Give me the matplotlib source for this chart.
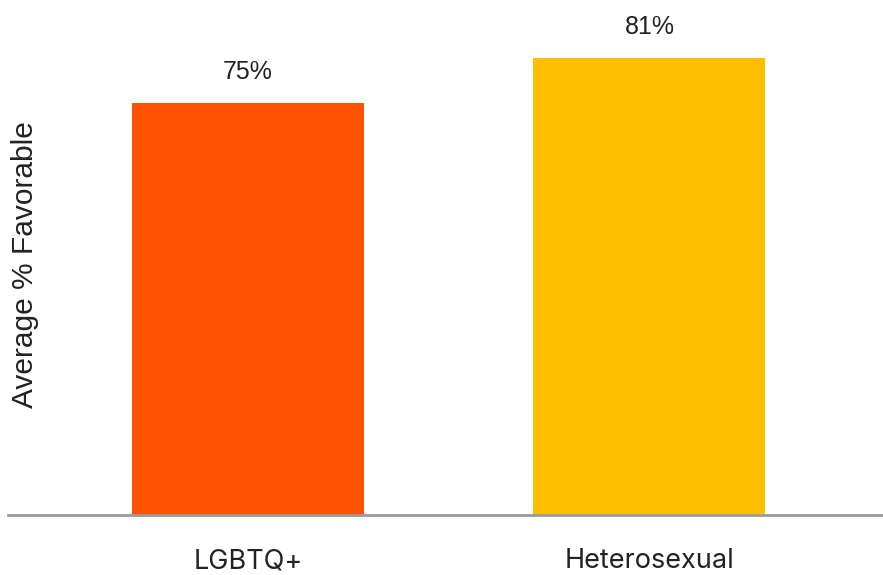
import matplotlib
matplotlib.use("Agg")
from matplotlib import pyplot as plt

categories = ["LGBTQ+", "Heterosexual"]
values = [75, 81]
value_labels = ["75%", "81%"]
colors = ["#FF5100", "#FFBF00"]

fig = plt.figure(figsize=(8.83, 5.75), dpi=100)
ax = fig.add_axes([8 / 883, 60 / 575, 875 / 883, 515 / 575])

x = range(len(categories))
bars = ax.bar(x, values, width=0.578, color=colors)

for b, lbl in zip(bars, value_labels):
    ax.text(b.get_x() + b.get_width() / 2, b.get_height() + 2.5, lbl,
            ha="center", va="bottom", fontsize=18,
            family="Liberation Sans", color="#222222")

ax.set_ylim(20, 88.67)
ax.set_xlim(-0.598, 1.582)

ax.set_xticks(list(x))
ax.set_xticklabels(categories, family="Inter", fontsize=19.5, color="#222222")
ax.tick_params(axis="x", length=0, pad=24)
ax.set_yticks([])

# axis title sits in the left margin, outside the axes box
fig.text(25 / 883, 310 / 575, "Average % Favorable", rotation=90,
         ha="center", va="center", family="Liberation Sans",
         fontsize=21.5, color="#222222")

for s in ["top", "right", "left"]:
    ax.spines[s].set_visible(False)
ax.spines["bottom"].set_color("#9a9a9a")
ax.spines["bottom"].set_linewidth(2)

fig.savefig("out.png", dpi=100)
